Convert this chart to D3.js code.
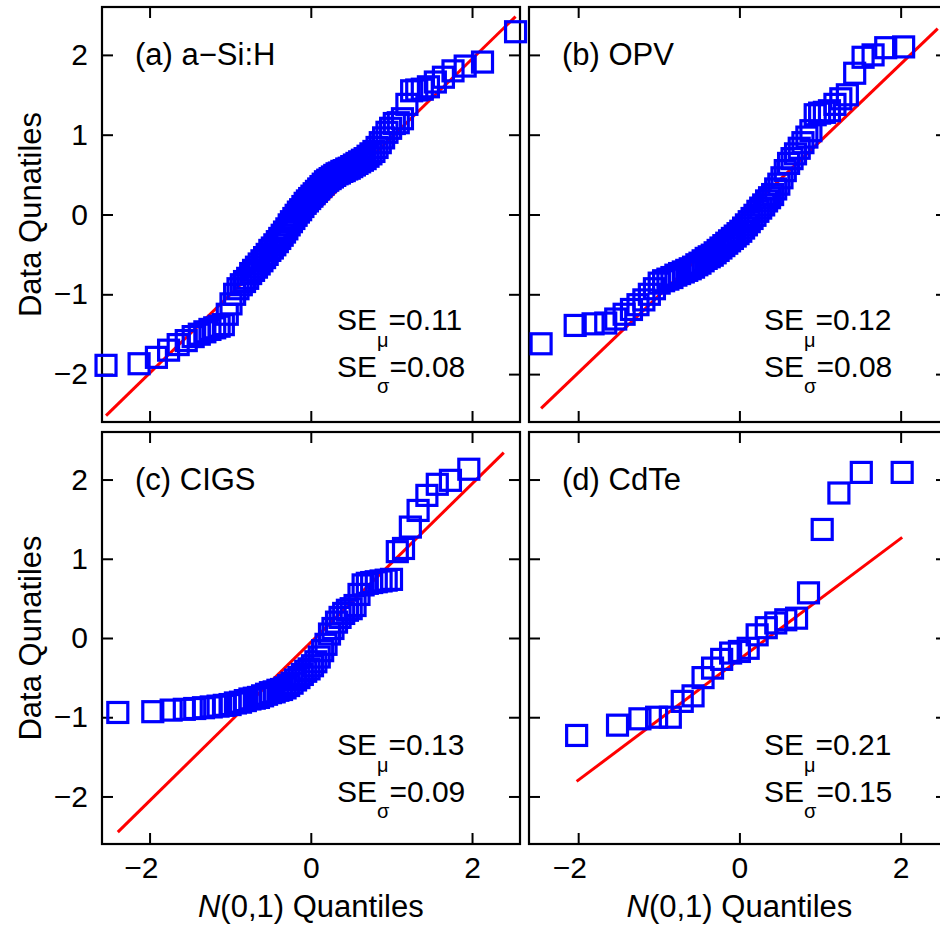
<!DOCTYPE html>
<html>
<head>
<meta charset="utf-8">
<script src="https://cdn.jsdelivr.net/npm/d3@7"></script>
<style>
  html, body { margin: 0; padding: 0; background: #fff; }
  svg { display: block; }
  text { font-family: "Liberation Sans", Arial, Helvetica, sans-serif; fill: #000; }
</style>
</head>
<body>
<svg id="chart" width="940" height="928"></svg>
<script>
// ---- data: theoretical N(0,1) quantiles (qx) and standardized data quantiles (qy) ----
const panelLabels = ["(a) a\u2212Si:H", "(b) OPV", "(c) CIGS", "(d) CdTe"];
const seMu = ["0.11", "0.12", "0.13", "0.21"];
const seSigma = ["0.08", "0.08", "0.09", "0.15"];
const xTicks = [-2, 0, 2];
const yTicks = [-2, -1, 0, 1, 2];

const qxA = [-2.54, -2.13, -1.915, -1.764, -1.645, -1.545, -1.459, -1.383, -1.314, -1.251,
  -1.192, -1.137, -1.085, -1.036, -0.990, -0.945, -0.903, -0.862, -0.822, -0.783,
  -0.746, -0.710, -0.674, -0.640, -0.606, -0.573, -0.541, -0.508, -0.477, -0.446,
  -0.415, -0.385, -0.355, -0.326, -0.297, -0.268, -0.240, -0.210, -0.182, -0.154,
  -0.126, -0.098, -0.070, -0.042, -0.014, 0.014, 0.042, 0.070, 0.098, 0.126,
  0.154, 0.182, 0.210, 0.240, 0.268, 0.297, 0.326, 0.355, 0.385, 0.415,
  0.446, 0.477, 0.508, 0.541, 0.573, 0.606, 0.640, 0.674, 0.710, 0.746,
  0.783, 0.822, 0.862, 0.903, 0.945, 0.990, 1.036, 1.085, 1.137, 1.192,
  1.251, 1.314, 1.383, 1.459, 1.545, 1.645, 1.764, 1.915, 2.13, 2.54];
const qyA = [-1.89, -1.87, -1.79, -1.70, -1.63, -1.58, -1.53, -1.50, -1.47, -1.44,
  -1.42, -1.40, -1.38, -1.25, -1.12, -1.00, -0.93, -0.88, -0.84, -0.80,
  -0.74, -0.70, -0.66, -0.62, -0.58, -0.54, -0.50, -0.45, -0.42, -0.38,
  -0.34, -0.30, -0.26, -0.22, -0.18, -0.13, -0.09, -0.05, -0.01, 0.03,
  0.06, 0.10, 0.14, 0.17, 0.20, 0.23, 0.26, 0.29, 0.32, 0.35,
  0.38, 0.41, 0.43, 0.45, 0.47, 0.49, 0.51, 0.52, 0.54, 0.55,
  0.57, 0.58, 0.60, 0.62, 0.64, 0.66, 0.68, 0.70, 0.73, 0.76,
  0.79, 0.84, 0.90, 0.96, 1.03, 1.08, 1.14, 1.15, 1.20, 1.38,
  1.55, 1.56, 1.57, 1.60, 1.66, 1.72, 1.80, 1.86, 1.91, 2.29];
const fitXA = [-2.54, 2.54];
const fitYA = [-2.52, 2.48];

const qxB = [-2.46, -2.037, -1.815, -1.658, -1.534, -1.430, -1.339, -1.258, -1.185, -1.117,
  -1.054, -0.995, -0.940, -0.887, -0.837, -0.788, -0.742, -0.696, -0.653, -0.610,
  -0.569, -0.528, -0.489, -0.450, -0.412, -0.374, -0.337, -0.301, -0.264, -0.229,
  -0.193, -0.157, -0.122, -0.087, -0.052, -0.017, 0.017, 0.052, 0.087, 0.122,
  0.157, 0.193, 0.229, 0.264, 0.301, 0.337, 0.374, 0.412, 0.450, 0.489,
  0.528, 0.569, 0.610, 0.653, 0.696, 0.742, 0.788, 0.837, 0.887, 0.940,
  0.995, 1.054, 1.117, 1.185, 1.258, 1.339, 1.430, 1.534, 1.658, 1.815, 2.037];
const qyB = [-1.62, -1.39, -1.37, -1.36, -1.31, -1.25, -1.19, -1.13, -1.07, -1.00,
  -0.93, -0.86, -0.83, -0.81, -0.79, -0.76, -0.74, -0.72, -0.70, -0.68,
  -0.66, -0.63, -0.61, -0.58, -0.55, -0.53, -0.51, -0.48, -0.45, -0.42,
  -0.39, -0.36, -0.33, -0.30, -0.27, -0.24, -0.21, -0.17, -0.13, -0.09,
  -0.05, -0.01, 0.04, 0.08, 0.12, 0.17, 0.21, 0.25, 0.32, 0.38,
  0.46, 0.55, 0.64, 0.70, 0.76, 0.83, 0.90, 0.97, 1.05, 1.25,
  1.27, 1.28, 1.30, 1.38, 1.45, 1.50, 1.77, 1.97, 2.00, 2.09, 2.10];
const fitXB = [-2.46, 2.46];
const fitYB = [-2.43, 2.33];

const qxC = [-2.394, -1.960, -1.732, -1.569, -1.440, -1.331, -1.235, -1.150, -1.073, -1.001,
  -0.935, -0.872, -0.812, -0.755, -0.701, -0.649, -0.598, -0.549, -0.501, -0.454,
  -0.408, -0.363, -0.319, -0.275, -0.232, -0.189, -0.147, -0.105, -0.063, -0.021,
  0.021, 0.063, 0.105, 0.147, 0.189, 0.232, 0.275, 0.319, 0.363, 0.408,
  0.454, 0.501, 0.549, 0.598, 0.649, 0.701, 0.755, 0.812, 0.872, 0.935,
  1.001, 1.073, 1.150, 1.235, 1.331, 1.440, 1.569, 1.732, 1.960];
const qyC = [-0.94, -0.93, -0.91, -0.90, -0.89, -0.88, -0.87, -0.86, -0.85, -0.84,
  -0.82, -0.81, -0.79, -0.77, -0.76, -0.75, -0.73, -0.71, -0.69, -0.68,
  -0.66, -0.65, -0.63, -0.60, -0.57, -0.53, -0.50, -0.46, -0.42, -0.39,
  -0.35, -0.30, -0.24, -0.16, -0.08, 0.05, 0.12, 0.20, 0.26, 0.31,
  0.35, 0.37, 0.41, 0.55, 0.67, 0.69, 0.70, 0.71, 0.72, 0.73,
  0.74, 1.09, 1.13, 1.40, 1.61, 1.80, 1.94, 1.99, 2.13];
const fitXC = [-2.394, 2.394];
const fitYC = [-2.45, 2.34];

const qxD = [-2.019, -1.512, -1.234, -1.027, -0.857, -0.709, -0.575, -0.451, -0.333, -0.220,
  -0.109, 0, 0.109, 0.220, 0.333, 0.451, 0.575, 0.709, 0.857, 1.027, 1.234, 1.512, 2.019];
const qyD = [-1.23, -1.10, -1.02, -1.00, -1.00, -0.80, -0.73, -0.50, -0.38, -0.27,
  -0.19, -0.17, -0.13, 0.04, 0.13, 0.19, 0.23, 0.25, 0.57, 1.37, 1.83, 2.09, 2.09];
const fitXD = [-2.019, 2.019];
const fitYD = [-1.81, 1.27];

// ---- layout ----
const colLeft = [102, 529];
const panelW = 418;
const rowTop = [7, 432];
const rowBottom = [422, 844];
const xDomains = [[-2.59, 2.595], [-2.61, 2.575]];
const yDomain = [-2.6, 2.6];
const tickLen = 11;
const tickFont = 30;

const panels = [
  { label: panelLabels[0], qx: qxA, qy: qyA, fx: fitXA, fy: fitYA, mu: seMu[0], sg: seSigma[0], col: 0, row: 0 },
  { label: panelLabels[1], qx: qxB, qy: qyB, fx: fitXB, fy: fitYB, mu: seMu[1], sg: seSigma[1], col: 1, row: 0 },
  { label: panelLabels[2], qx: qxC, qy: qyC, fx: fitXC, fy: fitYC, mu: seMu[2], sg: seSigma[2], col: 0, row: 1 },
  { label: panelLabels[3], qx: qxD, qy: qyD, fx: fitXD, fy: fitYD, mu: seMu[3], sg: seSigma[3], col: 1, row: 1 }
];

const svg = d3.select("#chart");

panels.forEach(p => {
  const x0 = colLeft[p.col], x1 = x0 + panelW;
  const y0 = rowTop[p.row], y1 = rowBottom[p.row];
  const x = d3.scaleLinear().domain(xDomains[p.col]).range([x0, x1]);
  const y = d3.scaleLinear().domain(yDomain).range([y1, y0]);
  const g = svg.append("g");

  // inward ticks on all four sides
  const showX = p.row === 1, showY = p.col === 0;
  const bottom = g.append("g").attr("transform", `translate(0,${y1})`)
    .call(d3.axisBottom(x).tickValues(xTicks).tickSize(-tickLen).tickPadding(13)
      .tickFormat(showX ? d3.format("") : () => ""));
  const top = g.append("g").attr("transform", `translate(0,${y0})`)
    .call(d3.axisTop(x).tickValues(xTicks).tickSize(-tickLen).tickFormat(() => ""));
  const left = g.append("g").attr("transform", `translate(${x0},0)`)
    .call(d3.axisLeft(y).tickValues(yTicks).tickSize(-tickLen).tickPadding(14)
      .tickFormat(showY ? d3.format("") : () => ""));
  const right = g.append("g").attr("transform", `translate(${x1},0)`)
    .call(d3.axisRight(y).tickValues(yTicks).tickSize(-tickLen).tickFormat(() => ""));
  [bottom, top, left, right].forEach(a => {
    a.select(".domain").remove();
    a.selectAll(".tick line").attr("stroke", "#000").attr("stroke-width", 2);
    a.selectAll(".tick text").attr("font-size", tickFont)
      .attr("font-family", "'Liberation Sans', Arial, Helvetica, sans-serif").attr("fill", "#000");
  });
  // x tick labels: digit centred on the tick, minus sign hangs to the left
  bottom.selectAll(".tick text").attr("text-anchor", "end").attr("dx", "0.278em");

  // frame
  g.append("rect").attr("x", x0).attr("y", y0).attr("width", x1 - x0).attr("height", y1 - y0)
    .attr("fill", "none").attr("stroke", "#000").attr("stroke-width", 2.2);

  // reference line
  const pts = p.fx.map((v, i) => [v, p.fy[i]]);
  g.append("path").datum(pts)
    .attr("d", d3.line().x(d => x(d[0])).y(d => y(d[1])))
    .attr("fill", "none").attr("stroke", "#ff0000").attr("stroke-width", 3);

  // sample quantiles as open squares
  const data = p.qx.map((v, i) => ({ x: v, y: p.qy[i] }));
  const s = 20;
  g.append("g").selectAll("rect").data(data).join("rect")
    .attr("x", d => x(d.x) - s / 2).attr("y", d => y(d.y) - s / 2)
    .attr("width", s).attr("height", s)
    .attr("fill", "none").attr("stroke", "#0000ff").attr("stroke-width", 3.2);

  // panel label
  g.append("text").attr("x", x0 + 33).attr("y", y0 + 58)
    .attr("font-size", 31).text(p.label);

  // standard errors
  const seX = x0 + 235, seY = y0 + 323;
  const t1 = g.append("text").attr("x", seX).attr("y", seY).attr("font-size", 30);
  t1.append("tspan").text("SE");
  t1.append("tspan").attr("font-size", 20).attr("dy", 17).text("\u03bc");
  t1.append("tspan").attr("dy", -17).text("=" + p.mu);
  const t2 = g.append("text").attr("x", seX).attr("y", seY + 47).attr("font-size", 30);
  t2.append("tspan").text("SE");
  t2.append("tspan").attr("font-size", 20).attr("dy", 16).text("\u03c3");
  t2.append("tspan").attr("dy", -16).text("=" + p.sg);

  // axis titles
  if (showX) {
    const xt = g.append("text").attr("x", (x(-2) + x(2)) / 2).attr("y", 917)
      .attr("text-anchor", "middle").attr("font-size", 31);
    xt.append("tspan").attr("font-style", "italic").text("N");
    xt.append("tspan").text("(0,1) Quantiles");
  }
  if (showY) {
    g.append("text").attr("transform", `translate(41,${y(0)}) rotate(-90)`)
      .attr("text-anchor", "middle").attr("font-size", 31).text("Data Qunatiles");
  }
});
</script>
</body>
</html>
